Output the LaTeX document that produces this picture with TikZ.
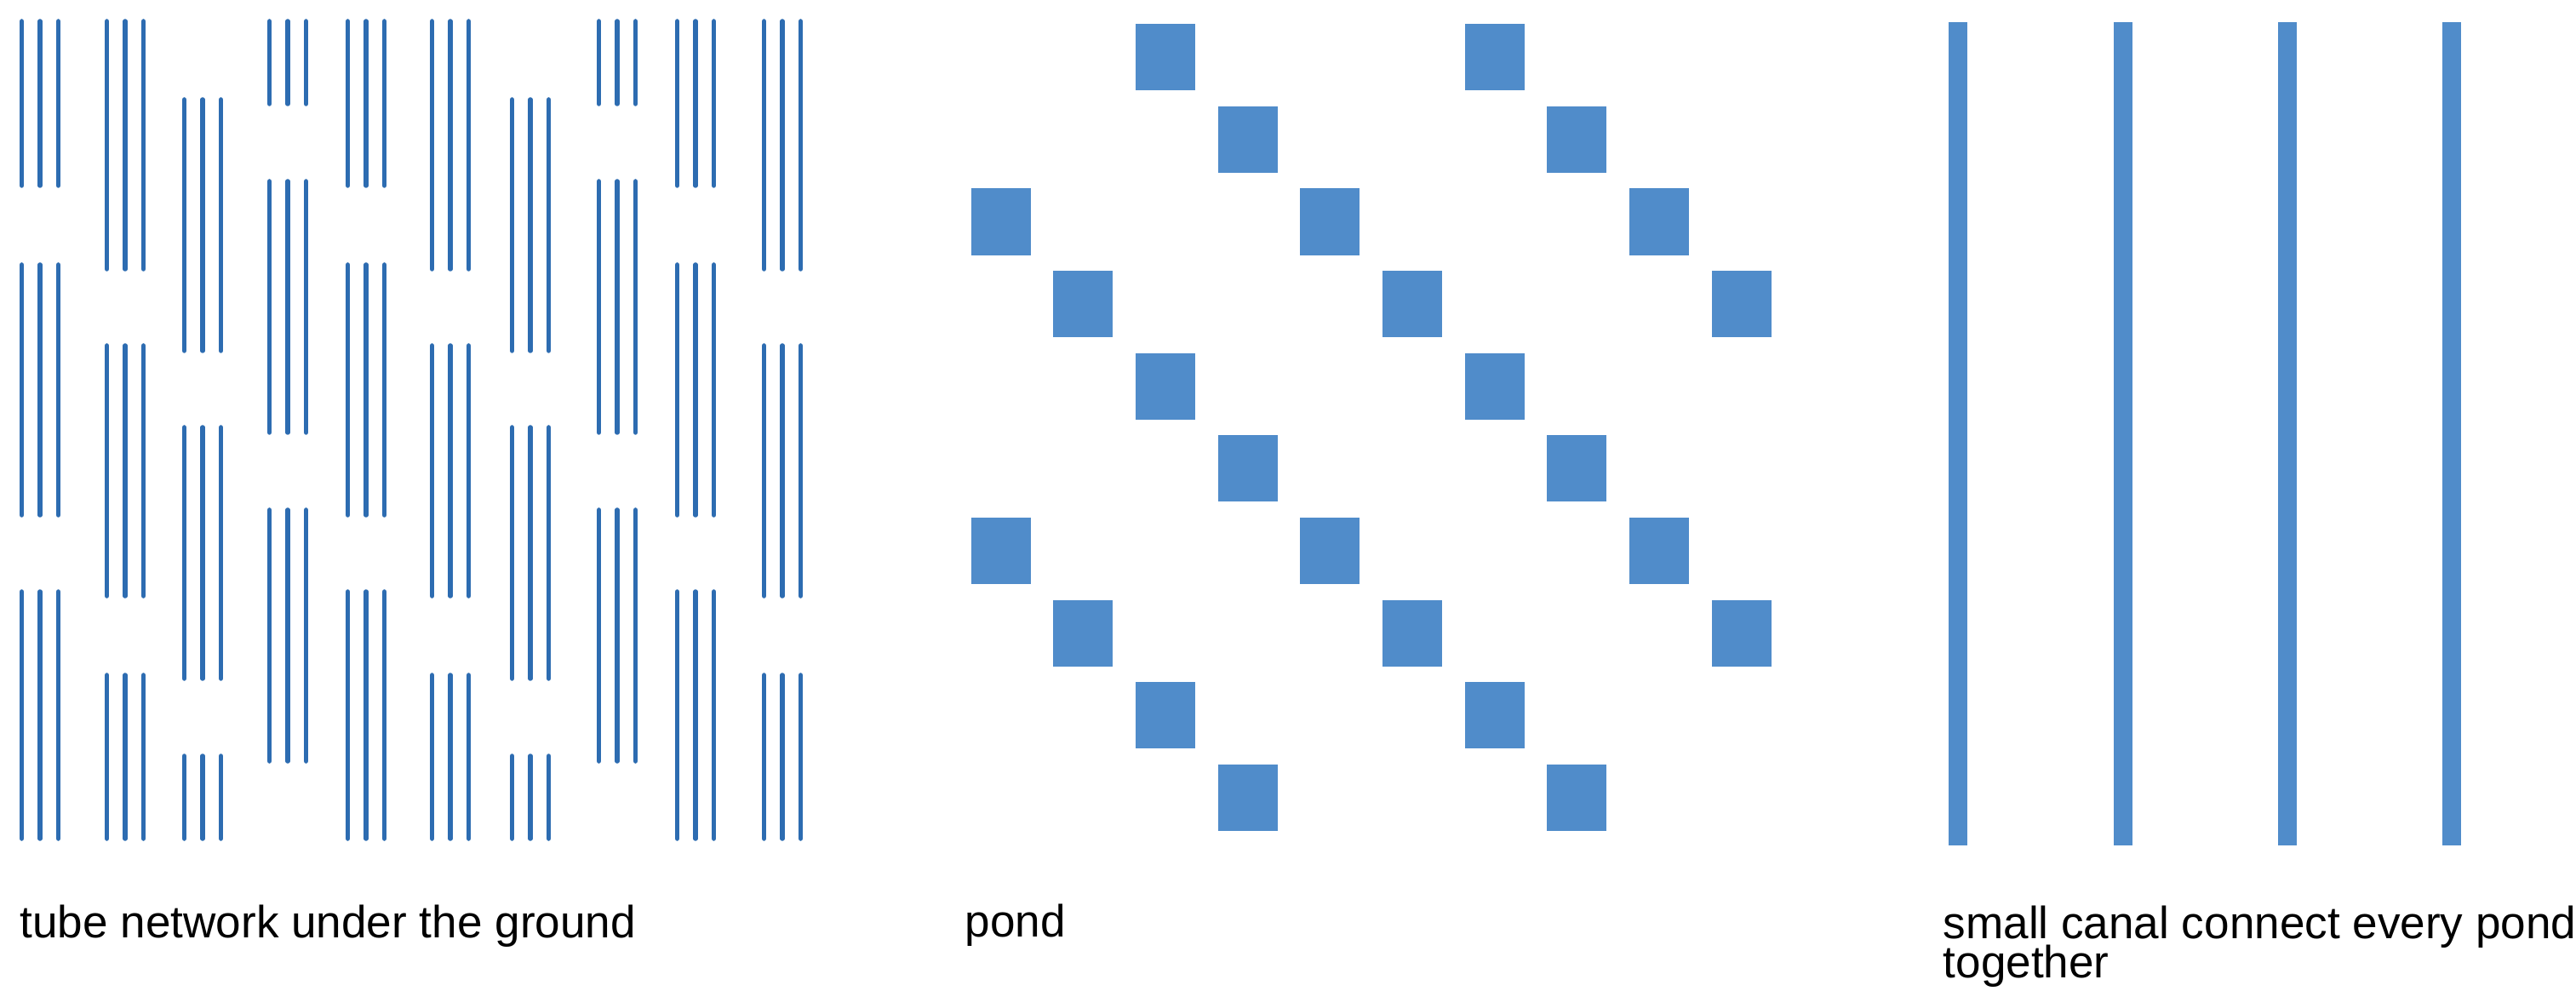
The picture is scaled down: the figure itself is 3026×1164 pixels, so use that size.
\documentclass[tikz,border=0pt]{standalone}
\usepackage{fontspec}
\setmainfont{Liberation Sans}
\usepackage{tikz}
\usepackage{xcolor}
\definecolor{tubeblue}{RGB}{45,108,177}
\definecolor{pondblue}{RGB}{80,140,202}
\newcommand{\capfont}{\fontsize{15.1}{12.8}\selectfont\lineskiplimit-100pt\relax}

\begin{document}
\begin{tikzpicture}[x=0.01cm,y=-0.01cm]
    \tikzstyle{tube}=[draw=tubeblue,line width=0.055cm,line cap=round]
    \tikzstyle{pond}=[rectangle,fill=pondblue,anchor=north west,minimum width=0.7cm,minimum height=0.78cm,inner sep=0pt]
    \tikzstyle{canal}=[fill=pondblue]
    \tikzstyle{captext}=[anchor=base west,inner sep=0pt,align=left,font=\capfont]
    \useasboundingbox (0,0) rectangle (3026,1164);

    \foreach \gx in {47,430,817}
        \foreach \ya/\yb in {22/221,308/608,692/988}
            \foreach \dx in {-21.5,0,21.5}
                \draw[tube] ({\gx+\dx},{\ya+3}) -- ({\gx+\dx},{\yb-3});
    \foreach \gx in {147,529,919}
        \foreach \ya/\yb in {22/319,403/703,790/988}
            \foreach \dx in {-21.5,0,21.5}
                \draw[tube] ({\gx+\dx},{\ya+3}) -- ({\gx+\dx},{\yb-3});
    \foreach \gx in {238,623}
        \foreach \ya/\yb in {114/415,499/800,885/988}
            \foreach \dx in {-21.5,0,21.5}
                \draw[tube] ({\gx+\dx},{\ya+3}) -- ({\gx+\dx},{\yb-3});
    \foreach \gx in {338,725}
        \foreach \ya/\yb in {22/125,210/511,596/897}
            \foreach \dx in {-21.5,0,21.5}
                \draw[tube] ({\gx+\dx},{\ya+3}) -- ({\gx+\dx},{\yb-3});

    \foreach \c/\r in {2/0,6/0,3/1,7/1,0/2,4/2,8/2,1/3,5/3,9/3,2/4,6/4,
                       3/5,7/5,0/6,4/6,8/6,1/7,5/7,9/7,2/8,6/8,3/9,7/9}
        \node[pond] (p\c\r) at ({1140+96.67*\c},{27.6+96.6*\r}) {};

    \foreach \cx in {2300,2493.5,2687,2880}
        \fill[canal] ({\cx-11},26) rectangle ({\cx+11},993);

    \node[captext] (tubes) at (23,1101) {tube network under the ground};
    \node[captext] (ponds) at (1133,1100) {pond};
    \node[captext] (canals) at (2282,1148) {small canal connect every pond\\together};
\end{tikzpicture}
\end{document}
